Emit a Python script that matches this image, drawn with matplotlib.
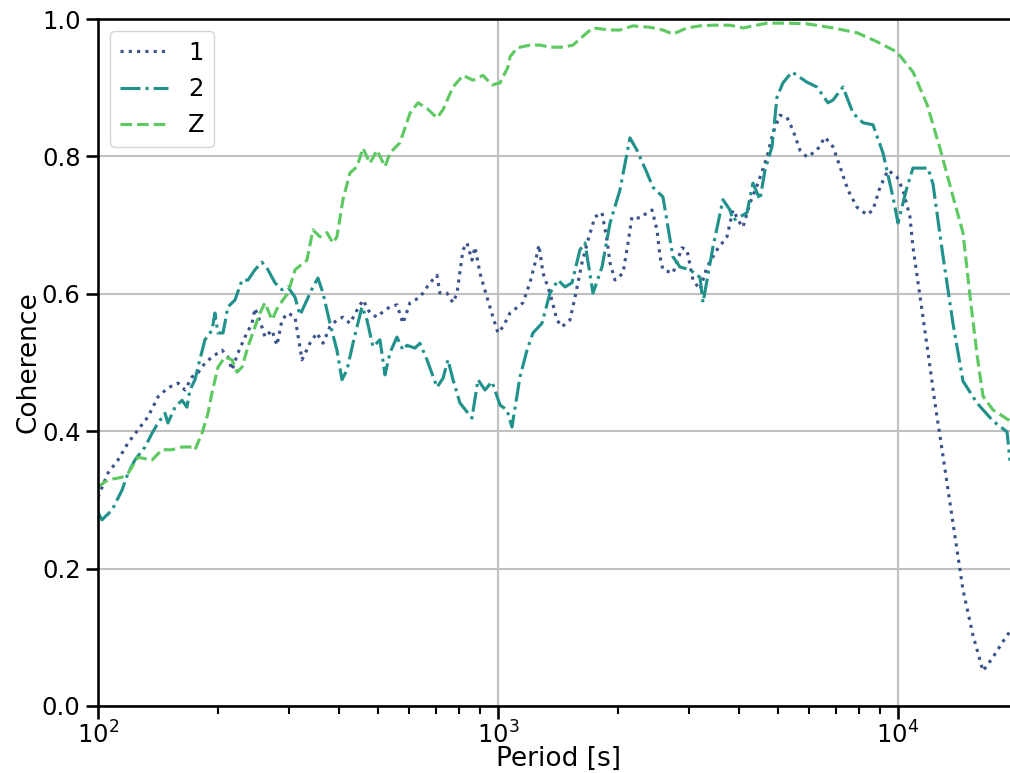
import matplotlib
matplotlib.use("Agg")
import matplotlib.pyplot as plt
import numpy as np

# Coherence spectra of the three components (period in seconds)
period_1 = [100, 105.9, 112.2, 118.9, 125.9, 133.4, 141.3, 149.6, 158.5, 165.0, 171.8, 177.8,
            185.1, 192.8, 204.2, 211.3, 216.3, 223.9, 233.1, 242.7, 246.9, 257.0, 261.5, 272.3,
            280.2, 288.4, 298.5, 310.9, 323.6, 338.8, 352.7, 365.2, 380.2, 395.7, 409.7, 426.6,
            444.1, 459.7, 478.6, 498.3, 515.8, 537.0, 559.0, 578.8, 602.6, 638.3, 676.1, 703.9,
            716.1, 745.7, 772.0, 789.9, 817.6, 836.7, 861.0, 876.1, 901.6, 938.7, 971.8, 1000,
            1029, 1072, 1155, 1202, 1238, 1266, 1296, 1349, 1404, 1445, 1514, 1558, 1622, 1679,
            1748, 1820, 1873, 1906, 1961, 2054, 2114, 2163, 2265, 2358, 2427, 2498, 2541, 2585,
            2738, 2884, 2968, 3073, 3199, 3330, 3528, 3737, 3868, 4027, 4097, 4266, 4467, 4704,
            4870, 5070, 5278, 5464, 5689, 5923, 6274, 6569, 6879, 7161, 7499, 7899, 8368, 8660,
            9016, 9441, 9943, 10292, 10715, 10902, 11350, 11817, 12373, 12957, 13725, 14538,
            15399, 16313, 17278, 18736, 19055]
coh_1 = [0.304, 0.339, 0.358, 0.383, 0.402, 0.421, 0.450, 0.463, 0.470, 0.460, 0.479, 0.485,
         0.499, 0.508, 0.518, 0.508, 0.489, 0.514, 0.537, 0.557, 0.579, 0.552, 0.537, 0.547,
         0.525, 0.562, 0.572, 0.566, 0.504, 0.528, 0.543, 0.528, 0.552, 0.562, 0.566, 0.557,
         0.576, 0.591, 0.572, 0.566, 0.574, 0.581, 0.584, 0.557, 0.587, 0.595, 0.616, 0.627,
         0.601, 0.601, 0.587, 0.601, 0.664, 0.674, 0.649, 0.668, 0.630, 0.595, 0.566, 0.543,
         0.552, 0.572, 0.587, 0.616, 0.645, 0.671, 0.630, 0.601, 0.562, 0.552, 0.562, 0.595,
         0.645, 0.678, 0.712, 0.718, 0.678, 0.645, 0.620, 0.630, 0.674, 0.712, 0.710, 0.718,
         0.722, 0.693, 0.654, 0.635, 0.630, 0.667, 0.664, 0.620, 0.606, 0.639, 0.664, 0.683,
         0.722, 0.703, 0.697, 0.732, 0.761, 0.799, 0.834, 0.860, 0.857, 0.838, 0.809, 0.799,
         0.809, 0.828, 0.814, 0.785, 0.751, 0.726, 0.715, 0.722, 0.755, 0.780, 0.770, 0.751,
         0.712, 0.668, 0.597, 0.525, 0.441, 0.364, 0.266, 0.169, 0.103, 0.051, 0.071, 0.103,
         0.108]

period_2 = [100, 102.3, 108.4, 114.8, 118.9, 123.7, 131.1, 136.5, 141.3, 147.1, 149.6, 155.8,
            162.2, 166.9, 169.8, 174.8, 177.8, 185.1, 192.8, 196.1, 199.5, 205.4, 211.3, 220.1,
            229.1, 237.1, 246.9, 257.0, 266.1, 277.0, 288.4, 298.5, 310.9, 319.9, 333.0, 344.7,
            354.8, 365.2, 380.2, 395.7, 407.4, 419.3, 434.0, 457.1, 470.4, 486.9, 507.0, 521.9,
            537.0, 559.0, 578.8, 592.3, 620.2, 638.3, 664.5, 703.9, 728.8, 749.9, 772.0, 803.5,
            861.0, 891.3, 928.0, 966.1, 1012, 1053, 1084, 1135, 1182, 1223, 1288, 1349, 1413,
            1471, 1531, 1603, 1650, 1728, 1820, 1906, 2018, 2138, 2226, 2358, 2441, 2585, 2661,
            2738, 2851, 3020, 3199, 3255, 3447, 3652, 3802, 3868, 4027, 4193, 4340, 4519, 4651,
            4842, 4983, 5158, 5433, 5923, 6274, 6683, 6879, 7286, 7720, 8177, 8660, 9173, 9716,
            10000, 10532, 10902, 11885, 12232, 12957, 13725, 14538, 15758, 17278, 18736, 19055]
coh_2 = [0.282, 0.271, 0.285, 0.314, 0.339, 0.358, 0.377, 0.397, 0.412, 0.426, 0.412, 0.435,
         0.445, 0.435, 0.460, 0.475, 0.493, 0.533, 0.547, 0.572, 0.543, 0.543, 0.581, 0.591,
         0.620, 0.620, 0.635, 0.646, 0.635, 0.616, 0.606, 0.610, 0.595, 0.569, 0.591, 0.610,
         0.623, 0.601, 0.557, 0.518, 0.475, 0.489, 0.528, 0.581, 0.562, 0.523, 0.533, 0.482,
         0.514, 0.537, 0.518, 0.525, 0.521, 0.528, 0.504, 0.464, 0.477, 0.504, 0.475, 0.441,
         0.419, 0.475, 0.460, 0.472, 0.438, 0.431, 0.406, 0.479, 0.518, 0.543, 0.557, 0.601,
         0.620, 0.610, 0.616, 0.664, 0.674, 0.601, 0.639, 0.703, 0.751, 0.827, 0.809, 0.776,
         0.755, 0.741, 0.697, 0.654, 0.639, 0.635, 0.624, 0.587, 0.668, 0.737, 0.722, 0.707,
         0.712, 0.718, 0.761, 0.737, 0.780, 0.814, 0.886, 0.907, 0.923, 0.908, 0.901, 0.878,
         0.882, 0.901, 0.863, 0.849, 0.846, 0.805, 0.741, 0.703, 0.755, 0.783, 0.783, 0.760,
         0.655, 0.557, 0.473, 0.441, 0.415, 0.399, 0.357]

period_z = [100, 105.9, 114.8, 118.9, 125.9, 136.5, 144.5, 153.1, 162.2, 171.8, 174.8, 182.0,
            188.4, 192.8, 199.5, 207.7, 216.3, 222.6, 229.1, 237.1, 246.9, 254.1, 261.5, 272.3,
            281.8, 298.5, 310.9, 333.0, 344.7, 358.9, 373.7, 386.7, 395.7, 409.7, 426.6, 444.1,
            459.7, 478.6, 498.3, 521.9, 537.0, 568.9, 602.6, 631.0, 664.5, 703.9, 728.8, 772.0,
            817.6, 866.0, 917.3, 966.1, 1012, 1059, 1072, 1116, 1202, 1274, 1349, 1454, 1540,
            1669, 1728, 1906, 2018, 2175, 2399, 2585, 2738, 2968, 3199, 3447, 3802, 4097, 4441,
            4704, 5278, 5923, 6879, 7899, 8861, 9943, 10902, 11817, 12735, 13646, 14538, 15136,
            15758, 16313, 17278, 19055]
coh_z = [0.319, 0.329, 0.333, 0.339, 0.362, 0.358, 0.373, 0.373, 0.377, 0.377, 0.373, 0.397,
         0.426, 0.456, 0.493, 0.508, 0.504, 0.486, 0.493, 0.523, 0.552, 0.572, 0.587, 0.562,
         0.581, 0.601, 0.635, 0.649, 0.693, 0.683, 0.689, 0.674, 0.683, 0.737, 0.776, 0.785,
         0.812, 0.790, 0.809, 0.785, 0.805, 0.820, 0.863, 0.878, 0.870, 0.856, 0.868, 0.901,
         0.918, 0.911, 0.918, 0.904, 0.907, 0.930, 0.945, 0.958, 0.962, 0.962, 0.959, 0.959,
         0.962, 0.980, 0.987, 0.984, 0.984, 0.990, 0.988, 0.984, 0.978, 0.987, 0.990, 0.991,
         0.991, 0.987, 0.991, 0.994, 0.994, 0.993, 0.987, 0.980, 0.967, 0.952, 0.923, 0.876,
         0.812, 0.747, 0.689, 0.597, 0.512, 0.451, 0.431, 0.415]

labels = ["1", "2", "Z"]
colors = ["#3b528b", "#21918c", "#5ec962"]
styles = [":", "-.", "--"]

plt.rcParams.update({
    "font.family": "DejaVu Sans",
    "font.size": 18,
    "axes.labelsize": 19,
    "xtick.labelsize": 17.5,
    "ytick.labelsize": 17.5,
    "legend.fontsize": 17.5,
    "axes.linewidth": 1.875,
    "lines.linewidth": 2.25,
    "xtick.major.width": 1.875,
    "ytick.major.width": 1.875,
    "xtick.minor.width": 1.5,
    "xtick.major.size": 9,
    "ytick.major.size": 9,
    "xtick.minor.size": 6,
    "grid.linewidth": 1.5,
    "grid.color": "#c0c0c0",
})

fig = plt.figure(figsize=(10.10, 7.73), dpi=100)
ax = fig.add_axes([0.097, 0.0867, 0.9113, 0.8887])

for per, coh, lab, col, ls in zip([period_1, period_2, period_z],
                                  [coh_1, coh_2, coh_z], labels, colors, styles):
    ax.plot(per, coh, ls, color=col, label=lab)

ax.set_xscale("log")
ax.set_xlim(100, 2e4)
ax.set_ylim(0, 1)
ax.set_yticks([0.0, 0.2, 0.4, 0.6, 0.8, 1.0])
ax.tick_params(axis="x", which="major", pad=2)
ax.grid(True, which="major")
ax.set_axisbelow(True)
ax.set_xlabel("Period [s]", labelpad=-2)
ax.set_ylabel("Coherence", labelpad=0)
ax.legend(loc="upper left")

fig.savefig("out.png", dpi=100)
